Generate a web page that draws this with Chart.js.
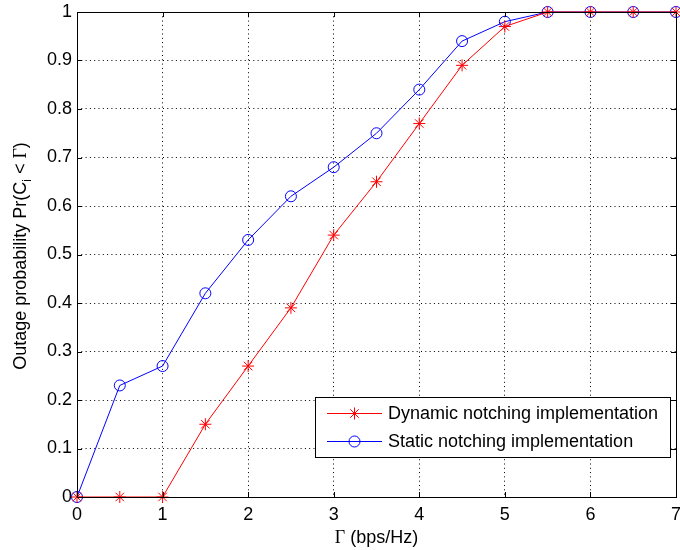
<!DOCTYPE html>
<html>
<head>
<meta charset="utf-8">
<script src="https://cdn.jsdelivr.net/npm/chart.js@4"></script>
<style>
  body { margin: 0; background: #fff; overflow: hidden; }
  #wrap { width: 680px; height: 550px; overflow: hidden; }
</style>
</head>
<body>
<!-- canvas a little wider than the window so the last x label gets cut like the original -->
<div id="wrap"><canvas id="myChart" width="683" height="550"></canvas></div>
<script>
// data
var gammaValues = [0, 0.5, 1, 1.5, 2, 2.5, 3, 3.5, 4, 4.5, 5, 5.5, 6, 6.5, 7];
var dynamicOutage = [0, 0, 0, 0.15, 0.27, 0.39, 0.54, 0.65, 0.77, 0.89, 0.97, 1, 1, 1, 1];
var staticOutage = [0, 0.23, 0.27, 0.42, 0.53, 0.62, 0.68, 0.75, 0.84, 0.94, 0.98, 1, 1, 1, 1];
var seriesNames = ['Dynamic notching implementation', 'Static notching implementation'];

var sansFont = '"Liberation Sans", Arial, Helvetica, sans-serif';
var serifFont = '"Liberation Serif", "Times New Roman", serif';
var fontSize = 18;

function toPoints(ys) {
    return gammaValues.map(function(x, i) { return { x: x, y: ys[i] }; });
}

// box, inner tick marks, axis titles and legend (matlab look)
const matlabDecor = {
    id: 'matlabDecor',
    afterDatasetsDraw(chart) {
        const ctx = chart.ctx;
        const a = chart.chartArea;
        const xs = chart.scales.x, ys = chart.scales.y;
        ctx.save();
        ctx.strokeStyle = '#000';
        ctx.lineWidth = 1;
        // tick marks inside
        ctx.beginPath();
        for (var v = 0; v <= 7; v++) {
            var px = Math.round(xs.getPixelForValue(v)) + 0.5;
            ctx.moveTo(px, a.bottom); ctx.lineTo(px, a.bottom - 5);
            ctx.moveTo(px, a.top); ctx.lineTo(px, a.top + 5);
        }
        for (var k = 0; k <= 10; k++) {
            var py = Math.round(ys.getPixelForValue(k / 10)) + 0.5;
            ctx.moveTo(a.left, py); ctx.lineTo(a.left + 5, py);
            ctx.moveTo(a.right, py); ctx.lineTo(a.right - 5, py);
        }
        ctx.stroke();
        ctx.strokeRect(Math.round(a.left) + 0.5, Math.round(a.top) + 0.5,
            Math.round(a.right - a.left), Math.round(a.bottom - a.top));

        var sans = fontSize + 'px ' + sansFont;
        var serif = fontSize + 'px ' + serifFont;
        var sub = '12px ' + sansFont;

        // x title
        ctx.fillStyle = '#000';
        ctx.textBaseline = 'alphabetic';
        ctx.textAlign = 'left';
        var rest = ' (bps/Hz)';
        ctx.font = sans;
        var restW = ctx.measureText(rest).width;
        ctx.font = serif;
        var gW = ctx.measureText('Γ').width;
        var cx = (a.left + a.right) / 2;
        var startX = cx - (gW + restW) / 2;
        ctx.fillText('Γ', startX, 543);
        ctx.font = sans;
        ctx.fillText(rest, startX + gW, 543);

        // y title, rotated with subscript
        ctx.save();
        ctx.translate(26, 256);
        ctx.rotate(-Math.PI / 2);
        var p1 = 'Outage probability Pr(C', p2 = 'i', p3 = ' < ';
        ctx.font = sans;
        var w1 = ctx.measureText(p1).width, w3 = ctx.measureText(p3).width;
        var w5 = ctx.measureText(')').width;
        ctx.font = sub;
        var w2 = ctx.measureText(p2).width;
        ctx.font = serif;
        var w4 = ctx.measureText('Γ').width;
        var tx = -(w1 + w2 + w3 + w4 + w5) / 2;
        ctx.font = sans;
        ctx.fillText(p1, tx, 0); tx += w1;
        ctx.font = sub;
        ctx.fillText(p2, tx, 5); tx += w2;
        ctx.font = sans;
        ctx.fillText(p3, tx, 0); tx += w3;
        ctx.font = serif;
        ctx.fillText('Γ', tx, 0); tx += w4;
        ctx.font = sans;
        ctx.fillText(')', tx, 0);
        ctx.restore();

        // legend box
        var lx = 315.5, ly = 397.5, lw = 355, lh = 60;
        ctx.fillStyle = '#fff';
        ctx.fillRect(lx, ly, lw, lh);
        ctx.strokeStyle = '#000';
        ctx.strokeRect(lx, ly, lw, lh);
        var rowsY = [413.5, 441.5];
        var colors = ['#ff0000', '#0000ff'];
        ctx.font = sans;
        ctx.textBaseline = 'middle';
        for (var r = 0; r < 2; r++) {
            ctx.strokeStyle = colors[r];
            ctx.beginPath();
            ctx.moveTo(327, rowsY[r]); ctx.lineTo(382, rowsY[r]);
            ctx.stroke();
            var mx = 354.5, my = rowsY[r];
            ctx.beginPath();
            if (r === 0) {
                var s = 6;
                ctx.moveTo(mx - s, my); ctx.lineTo(mx + s, my);
                ctx.moveTo(mx, my - s); ctx.lineTo(mx, my + s);
                var d = s * 0.7071;
                ctx.moveTo(mx - d, my - d); ctx.lineTo(mx + d, my + d);
                ctx.moveTo(mx - d, my + d); ctx.lineTo(mx + d, my - d);
            } else {
                ctx.arc(mx, my, 5.5, 0, Math.PI * 2);
            }
            ctx.stroke();
            ctx.fillStyle = '#000';
            ctx.fillText(seriesNames[r], 388, rowsY[r] + 1);
        }
        ctx.restore();
    }
};

const config = {
    type: 'line',
    data: {
        datasets: [
            {
                label: seriesNames[0],
                data: toPoints(dynamicOutage),
                borderColor: '#ff0000',
                backgroundColor: 'rgba(0,0,0,0)',
                borderWidth: 1,
                pointStyle: 'star',
                pointRadius: 6,
                pointBorderColor: '#ff0000',
                pointBorderWidth: 1,
                tension: 0,
                clip: false
            },
            {
                label: seriesNames[1],
                data: toPoints(staticOutage),
                borderColor: '#0000ff',
                backgroundColor: 'rgba(0,0,0,0)',
                borderWidth: 1,
                pointStyle: 'circle',
                pointRadius: 5.5,
                pointBorderColor: '#0000ff',
                pointBackgroundColor: 'rgba(0,0,0,0)',
                pointBorderWidth: 1,
                tension: 0,
                clip: false
            }
        ]
    },
    options: {
        responsive: false,
        animation: false,
        events: [],
        layout: { padding: { top: 12, right: 2, left: 0, bottom: 0 } },
        plugins: {
            legend: { display: false },
            tooltip: { enabled: false }
        },
        scales: {
            x: {
                type: 'linear',
                min: 0,
                max: 7,
                afterFit: function(scale) {
                    scale.height = 53;
                    scale.paddingLeft = 0;
                    scale.paddingRight = 0;
                },
                ticks: {
                    stepSize: 1,
                    color: '#000',
                    padding: 7,
                    font: { family: sansFont, size: fontSize },
                    maxRotation: 0
                },
                grid: {
                    color: '#000',
                    lineWidth: 1,
                    drawTicks: false
                },
                border: { display: false, dash: [1, 3.3] }
            },
            y: {
                min: 0,
                max: 1,
                afterFit: function(scale) {
                    scale.width = 77;
                    scale.paddingTop = 0;
                    scale.paddingBottom = 0;
                },
                ticks: {
                    stepSize: 0.1,
                    color: '#000',
                    padding: 5,
                    font: { family: sansFont, size: fontSize },
                    callback: function(v) { return Math.round(v * 10) / 10; }
                },
                grid: {
                    color: '#000',
                    lineWidth: 1,
                    drawTicks: false
                },
                border: { display: false, dash: [1, 3.3] }
            }
        }
    },
    plugins: [matlabDecor]
};

var myChart = new Chart(document.getElementById('myChart'), config);
</script>
</body>
</html>
